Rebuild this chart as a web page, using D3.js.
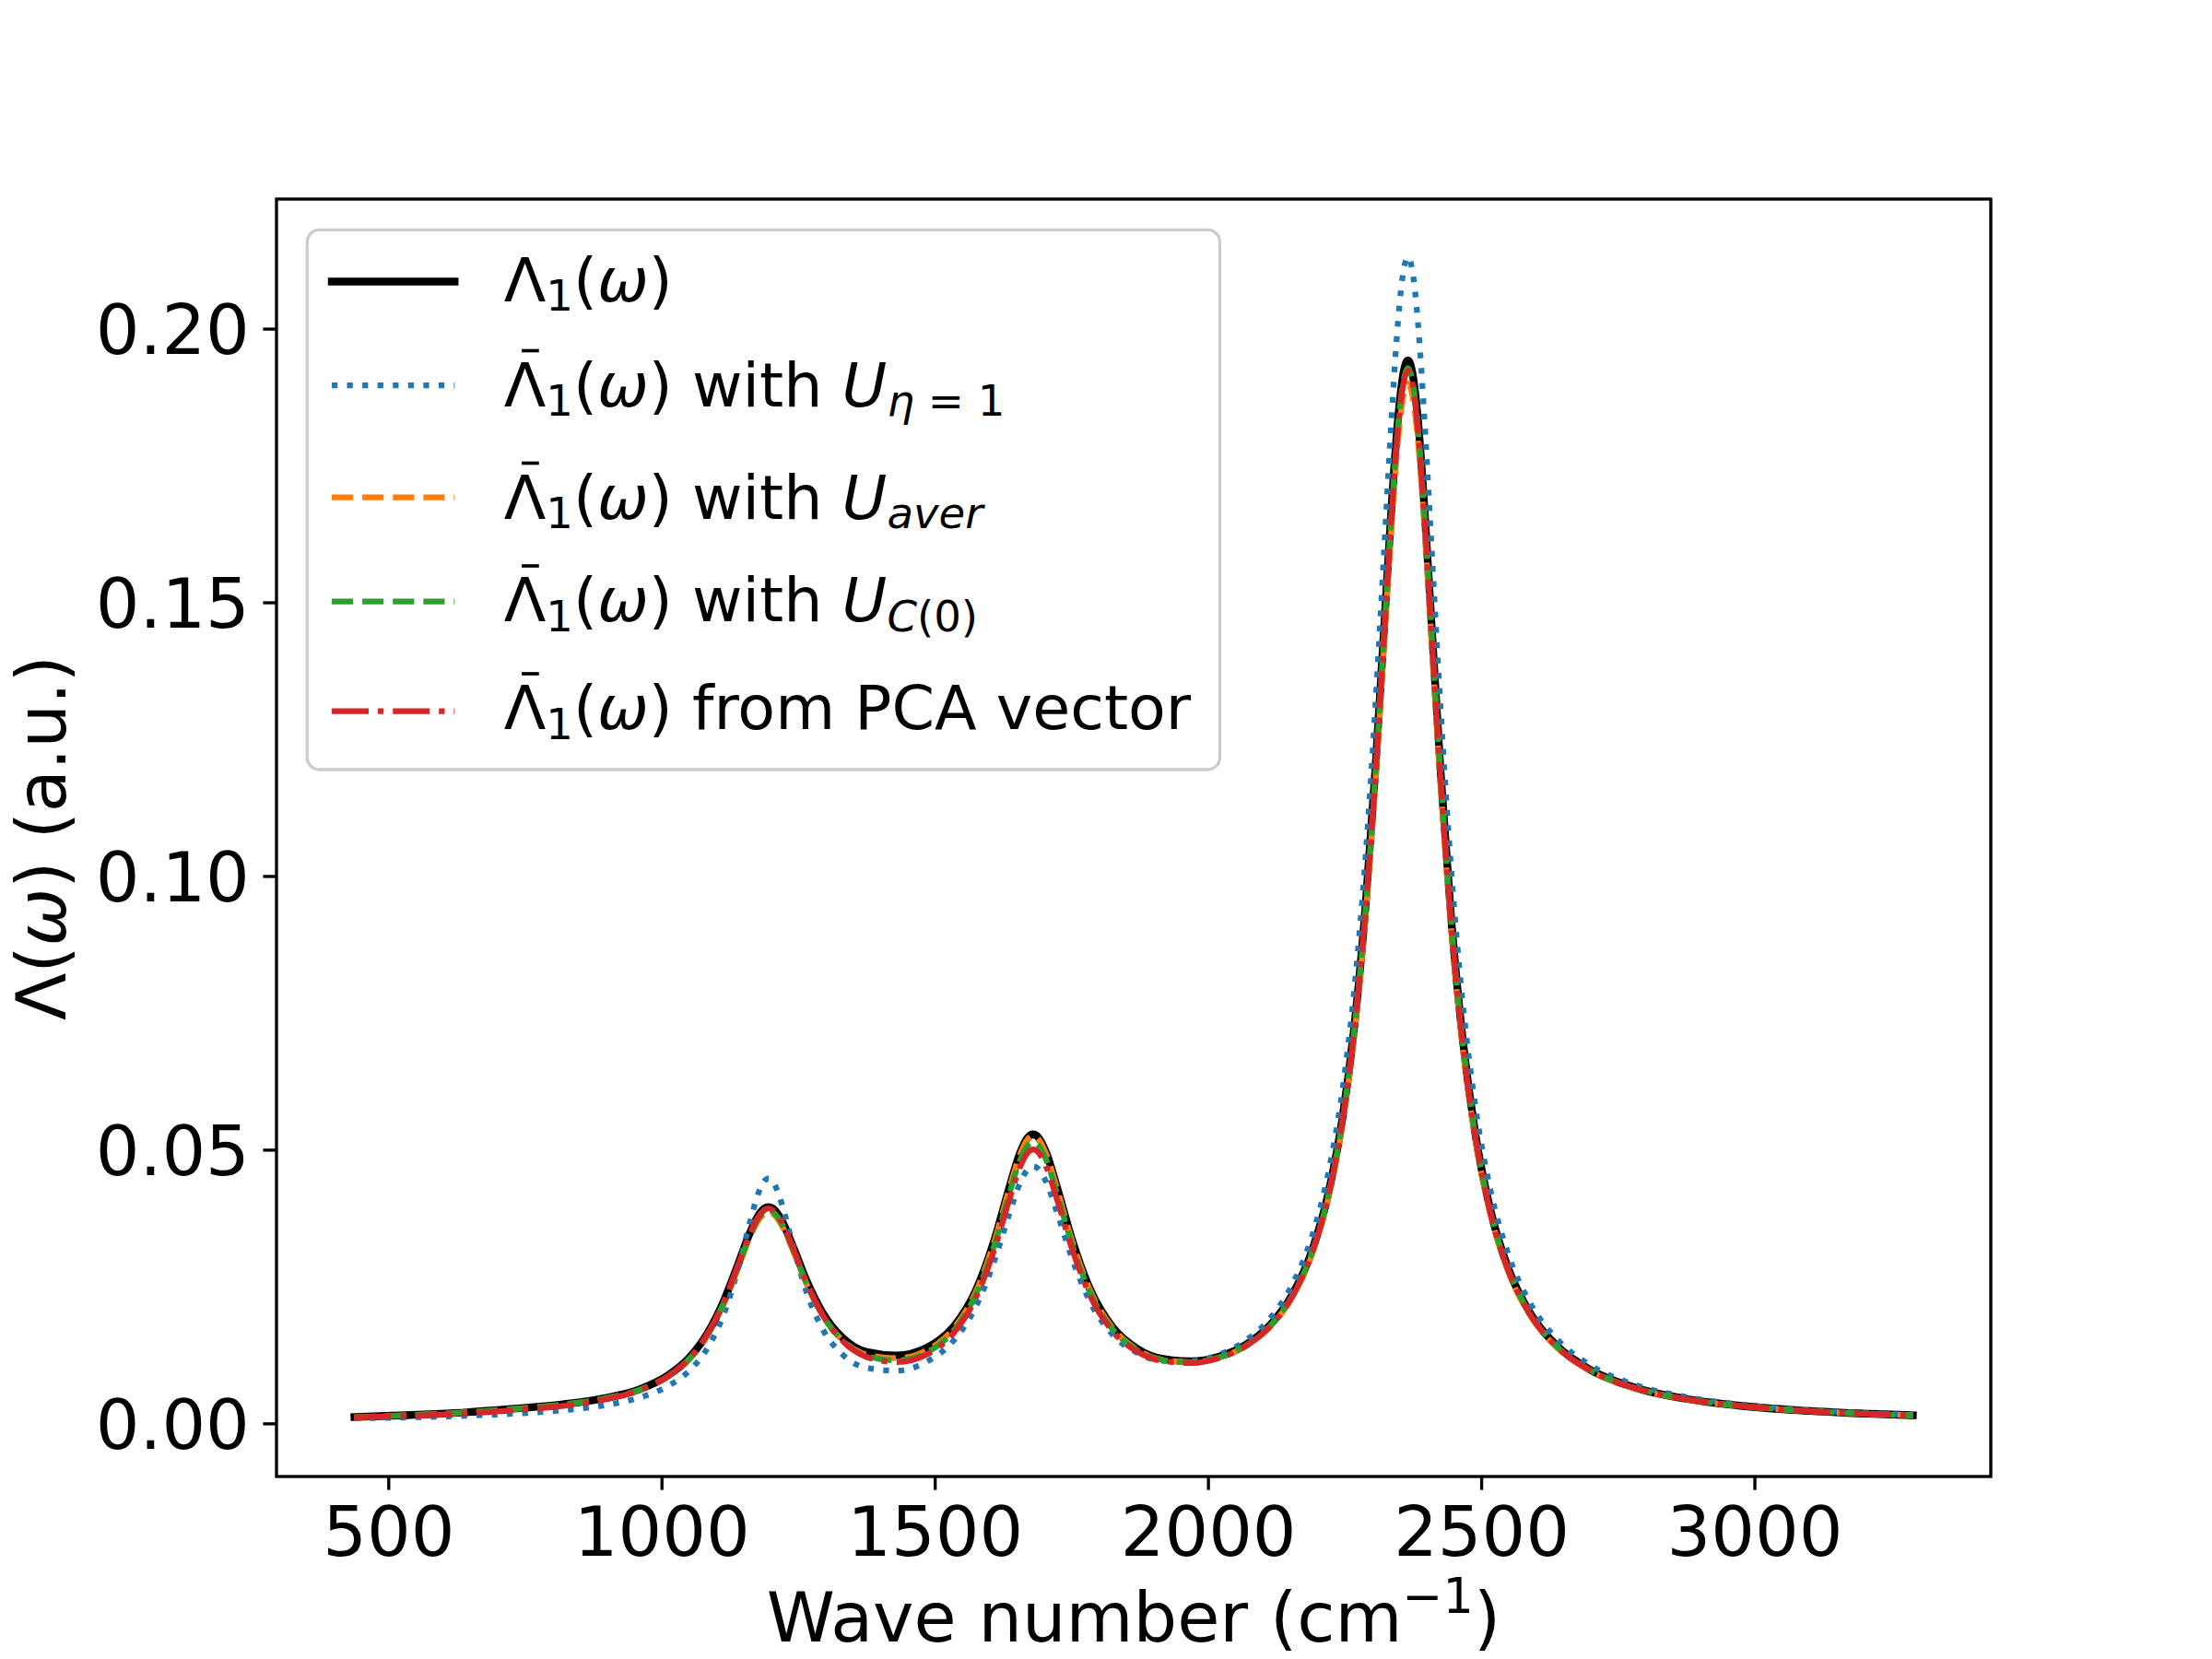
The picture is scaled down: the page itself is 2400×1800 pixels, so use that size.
<!DOCTYPE html>
<html><head><meta charset="utf-8">
<script src="https://cdn.jsdelivr.net/npm/d3@7"></script>
<style>
html,body{margin:0;padding:0;background:#fff;}
svg{display:block;}
text{font-family:"DejaVu Sans";white-space:pre;}
</style>
</head><body>
<svg id="chart" width="2400" height="1800"></svg>
<script>
// ---------- data ----------
const waveNumbers = [438, 520, 620, 720, 820, 900, 960, 1010, 1050, 1085, 1115, 1140, 1160, 1177, 1188, 1196, 1206, 1220, 1240, 1265, 1295, 1330, 1375, 1430, 1485, 1535, 1575, 1610, 1636, 1656, 1670, 1680, 1690, 1704, 1724, 1750, 1785, 1825, 1870, 1920, 1970, 2020, 2070, 2115, 2155, 2190, 2220, 2246, 2268, 2288, 2306, 2322, 2336, 2348, 2358, 2366, 2374, 2384, 2396, 2410, 2426, 2445, 2466, 2490, 2518, 2550, 2590, 2640, 2700, 2780, 2870, 2970, 3080, 3190, 3290];

const lambdaExact = [0.00116, 0.00145, 0.00188, 0.00260, 0.00349, 0.00469, 0.00623, 0.00864, 0.01190, 0.01661, 0.02261, 0.02904, 0.03439, 0.03795, 0.03924, 0.03951, 0.03905, 0.03705, 0.03247, 0.02616, 0.02017, 0.01577, 0.01307, 0.01242, 0.01379, 0.01771, 0.02423, 0.03379, 0.04294, 0.04937, 0.05217, 0.05281, 0.05220, 0.04945, 0.04308, 0.03396, 0.02435, 0.01765, 0.01367, 0.01172, 0.01134, 0.01220, 0.01443, 0.01813, 0.02363, 0.03142, 0.04190, 0.05570, 0.07270, 0.09407, 0.11900, 0.14488, 0.16765, 0.18374, 0.19207, 0.19422, 0.19202, 0.18365, 0.16749, 0.14464, 0.11868, 0.09242, 0.07035, 0.05250, 0.03854, 0.02819, 0.02009, 0.01402, 0.00977, 0.00657, 0.00456, 0.00326, 0.00239, 0.00183, 0.00148];

const lambdaEta1 = [0.00090, 0.00105, 0.00131, 0.00171, 0.00238, 0.00337, 0.00471, 0.00671, 0.00955, 0.01391, 0.02022, 0.02820, 0.03603, 0.04200, 0.04429, 0.04476, 0.04381, 0.04014, 0.03269, 0.02411, 0.01718, 0.01270, 0.01014, 0.00963, 0.01124, 0.01518, 0.02127, 0.02995, 0.03814, 0.04388, 0.04638, 0.04697, 0.04646, 0.04406, 0.03847, 0.03047, 0.02206, 0.01626, 0.01290, 0.01140, 0.01137, 0.01257, 0.01518, 0.01935, 0.02548, 0.03408, 0.04563, 0.06082, 0.07951, 0.10301, 0.13040, 0.15883, 0.18386, 0.20154, 0.21069, 0.21306, 0.21065, 0.20146, 0.18372, 0.15863, 0.13013, 0.10130, 0.07706, 0.05747, 0.04214, 0.03079, 0.02190, 0.01525, 0.01060, 0.00710, 0.00491, 0.00349, 0.00255, 0.00194, 0.00157];

const lambdaAver = [0.00114, 0.00142, 0.00185, 0.00255, 0.00342, 0.00459, 0.00609, 0.00844, 0.01162, 0.01621, 0.02206, 0.02833, 0.03354, 0.03702, 0.03827, 0.03854, 0.03809, 0.03615, 0.03168, 0.02554, 0.01966, 0.01530, 0.01258, 0.01190, 0.01337, 0.01740, 0.02400, 0.03357, 0.04270, 0.04912, 0.05190, 0.05254, 0.05193, 0.04919, 0.04284, 0.03376, 0.02418, 0.01751, 0.01353, 0.01157, 0.01117, 0.01199, 0.01416, 0.01777, 0.02315, 0.03076, 0.04101, 0.05451, 0.07114, 0.09205, 0.11643, 0.14174, 0.16402, 0.17977, 0.18791, 0.19001, 0.18786, 0.17967, 0.16386, 0.14151, 0.11611, 0.09042, 0.06883, 0.05137, 0.03771, 0.02758, 0.01966, 0.01372, 0.00956, 0.00643, 0.00447, 0.00319, 0.00234, 0.00179, 0.00145];

const lambdaC0 = [0.00114, 0.00143, 0.00186, 0.00256, 0.00344, 0.00462, 0.00613, 0.00850, 0.01172, 0.01636, 0.02227, 0.02860, 0.03386, 0.03738, 0.03864, 0.03891, 0.03846, 0.03649, 0.03197, 0.02575, 0.01974, 0.01523, 0.01232, 0.01149, 0.01294, 0.01698, 0.02348, 0.03286, 0.04179, 0.04805, 0.05076, 0.05138, 0.05079, 0.04812, 0.04193, 0.03308, 0.02374, 0.01724, 0.01339, 0.01151, 0.01117, 0.01205, 0.01427, 0.01795, 0.02342, 0.03116, 0.04157, 0.05527, 0.07215, 0.09337, 0.11812, 0.14380, 0.16642, 0.18239, 0.19065, 0.19279, 0.19061, 0.18230, 0.16626, 0.14358, 0.11780, 0.09174, 0.06982, 0.05211, 0.03825, 0.02797, 0.01993, 0.01391, 0.00969, 0.00652, 0.00452, 0.00323, 0.00237, 0.00181, 0.00147];

const lambdaPCA = [0.00109, 0.00133, 0.00170, 0.00232, 0.00320, 0.00443, 0.00606, 0.00850, 0.01180, 0.01649, 0.02246, 0.02886, 0.03417, 0.03772, 0.03899, 0.03927, 0.03880, 0.03681, 0.03224, 0.02594, 0.01982, 0.01519, 0.01215, 0.01119, 0.01258, 0.01655, 0.02290, 0.03204, 0.04072, 0.04680, 0.04944, 0.05004, 0.04947, 0.04687, 0.04086, 0.03225, 0.02319, 0.01688, 0.01315, 0.01134, 0.01104, 0.01194, 0.01418, 0.01786, 0.02333, 0.03105, 0.04143, 0.05510, 0.07194, 0.09310, 0.11779, 0.14341, 0.16597, 0.18190, 0.19014, 0.19227, 0.19010, 0.18181, 0.16581, 0.14319, 0.11748, 0.09148, 0.06963, 0.05196, 0.03813, 0.02789, 0.01987, 0.01387, 0.00966, 0.00649, 0.00450, 0.00322, 0.00235, 0.00180, 0.00146];

const xTickValues = [500, 1000, 1500, 2000, 2500, 3000];
const yTickValues = [0.00, 0.05, 0.10, 0.15, 0.20];

// legend labels as math segments: [text, kind]; "barred" = Λ carrying an accent bar
const legendLabels = [
  [["Λ",""],["1","sub"],["(",""],["ω","it"],[")",""]],
  [["Λ","barred"],["1","sub"],["(",""],["ω","it"],[") with ",""],["U","it"],["η","itsub"],[" = 1","sub"]],
  [["Λ","barred"],["1","sub"],["(",""],["ω","it"],[") with ",""],["U","it"],["aver","itsub"]],
  [["Λ","barred"],["1","sub"],["(",""],["ω","it"],[") with ",""],["U","it"],["C","itsub"],["(0)","sub"]],
  [["Λ","barred"],["1","sub"],["(",""],["ω","it"],[") from PCA vector",""]]
];

// ---------- drawing ----------
const PT = 300 / 72;
const svg = d3.select("#chart");
const ax = {x0: 300, x1: 2160, y0: 216, y1: 1602};
const pad = (lo, hi) => { const r = hi - lo; return [lo - 0.05 * r, hi + 0.05 * r]; };

const seriesValues = [lambdaExact, lambdaEta1, lambdaAver, lambdaC0, lambdaPCA];
const allY = seriesValues.flat();
const x = d3.scaleLinear().domain(pad(d3.min(waveNumbers), d3.max(waveNumbers))).range([ax.x0, ax.x1]);
const y = d3.scaleLinear().domain(pad(d3.min(allY), d3.max(allY))).range([ax.y1, ax.y0]);

const styles = [
  {color: "#000000", lw: 2.0 * PT, dash: null, cap: "square"},
  {color: "#1f77b4", lw: 1.5 * PT, dash: [1, 1.65], cap: "butt"},
  {color: "#ff7f0e", lw: 1.5 * PT, dash: [3.7, 1.6], cap: "butt"},
  {color: "#2ca02c", lw: 1.5 * PT, dash: [3.7, 1.6], cap: "butt"},
  {color: "#d62728", lw: 1.5 * PT, dash: [6.4, 1.6, 1, 1.6], cap: "butt"}
];
function applyStyle(sel, s) {
  sel.attr("fill", "none").attr("stroke", s.color).attr("stroke-width", s.lw)
     .attr("stroke-linecap", s.cap).attr("stroke-linejoin", "round");
  if (s.dash) sel.attr("stroke-dasharray", s.dash.map(v => v * s.lw).join(","));
}

svg.append("defs").append("clipPath").attr("id", "axclip")
  .append("rect").attr("x", ax.x0).attr("y", ax.y0).attr("width", ax.x1 - ax.x0).attr("height", ax.y1 - ax.y0);

const line = d3.line().x((d, i) => x(waveNumbers[i])).y(d => y(d)).curve(d3.curveMonotoneX);
const plot = svg.append("g").attr("clip-path", "url(#axclip)");
seriesValues.forEach((vals, k) => {
  plot.append("path").datum(vals).attr("d", line).call(applyStyle, styles[k]);
});

// axes
const gx = svg.append("g").attr("transform", `translate(0,${ax.y1})`)
  .call(d3.axisBottom(x).tickValues(xTickValues).tickFormat(d3.format("d"))
        .tickSize(3.5 * PT).tickPadding(3.5 * PT));
gx.attr("font-size", 75).attr("font-family", "DejaVu Sans");
gx.select(".domain").remove();
gx.selectAll(".tick line").attr("stroke", "#000").attr("stroke-width", 0.8 * PT);
gx.selectAll(".tick text").attr("fill", "#000").attr("dy", "0.76em");

const gy = svg.append("g").attr("transform", `translate(${ax.x0},0)`)
  .call(d3.axisLeft(y).tickValues(yTickValues).tickFormat(d3.format(".2f"))
        .tickSize(3.5 * PT).tickPadding(3.5 * PT));
gy.attr("font-size", 75).attr("font-family", "DejaVu Sans");
gy.select(".domain").remove();
gy.selectAll(".tick line").attr("stroke", "#000").attr("stroke-width", 0.8 * PT);
gy.selectAll(".tick text").attr("fill", "#000").attr("dy", "0.364em");

// spines
svg.append("rect").attr("x", ax.x0).attr("y", ax.y0).attr("width", ax.x1 - ax.x0).attr("height", ax.y1 - ax.y0)
  .attr("fill", "none").attr("stroke", "#000").attr("stroke-width", 0.8 * PT);

// math text helper (subscripts, superscripts, italics); returns x-extent of a barred glyph
function mathText(textSel, segs, size) {
  let shift = 0;
  let barred = null;
  segs.forEach(([t, kind]) => {
    const isSub = kind === "sub" || kind === "itsub";
    const isSup = kind === "sup";
    const target = isSub ? 0.16 * size : (isSup ? -0.42 * size : 0);
    const ts = textSel.append("tspan").text(t)
      .attr("font-size", (isSub || isSup) ? size * 0.7 : size)
      .attr("font-style", (kind === "it" || kind === "itsub") ? "italic" : "normal");
    if (target !== shift) { ts.attr("dy", target - shift); shift = target; }
    if (kind === "barred") barred = ts.node().getComputedTextLength();
  });
  return barred;
}

// axis labels
const xl = svg.append("text").attr("x", (ax.x0 + ax.x1) / 2).attr("y", 1781)
  .attr("text-anchor", "middle").attr("font-size", 75).attr("fill", "#000");
mathText(xl, [["Wave number (cm", ""], ["\u22121", "sup"], [")", ""]], 75);

const yl = svg.append("text").attr("transform", `translate(71,${(ax.y0 + ax.y1) / 2}) rotate(-90)`)
  .attr("text-anchor", "middle").attr("font-size", 75).attr("fill", "#000");
mathText(yl, [["Λ(", ""], ["ω", "it"], [") (a.u.)", ""]], 75);

// legend
const FS = 16 * PT;
const leg = svg.append("g");
leg.append("rect").attr("x", 333.3).attr("y", 249.3).attr("width", 990.2).attr("height", 585.7)
  .attr("rx", 0.2 * FS).attr("ry", 0.2 * FS)
  .attr("fill", "#ffffff").attr("fill-opacity", 0.8)
  .attr("stroke", "#cccccc").attr("stroke-width", 0.8 * PT);
const rowBase = [326.5, 440.5, 562.5, 674, 791];
const rowHandle = [305.5, 418, 539.5, 652.5, 771.5];
const hx0 = 333.3 + 0.4 * FS, hx1 = hx0 + 2.0 * FS, tx = hx1 + 0.8 * FS;
legendLabels.forEach((segs, k) => {
  leg.append("line").attr("x1", hx0).attr("x2", hx1).attr("y1", rowHandle[k]).attr("y2", rowHandle[k])
    .call(applyStyle, styles[k]);
  const t = leg.append("text").attr("x", tx).attr("y", rowBase[k]).attr("font-size", FS).attr("fill", "#000");
  const bw = mathText(t, segs, FS);
  if (bw !== null) {
    // accent bar over Λ (the \bar of the math label)
    const cx = tx + bw * 0.5 + 0.09 * FS, half = 0.14 * FS, yb = rowBase[k] - 0.9 * FS;
    leg.append("line").attr("x1", cx - half).attr("x2", cx + half).attr("y1", yb).attr("y2", yb)
      .attr("stroke", "#000").attr("stroke-width", 0.055 * FS);
  }
});
</script>
</body></html>
